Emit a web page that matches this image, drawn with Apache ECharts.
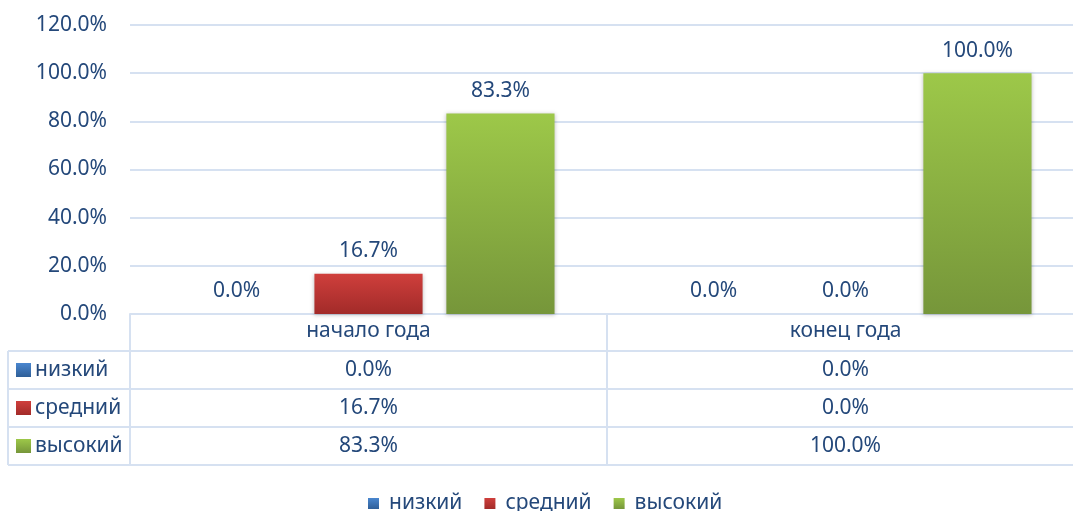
<!DOCTYPE html>
<html>
<head>
<meta charset="utf-8">
<script src="https://cdn.jsdelivr.net/npm/echarts@6/dist/echarts.min.js"></script>
<style>
  html, body { margin: 0; padding: 0; background: #fff; }
  #chart { width: 1073px; height: 511px; }
</style>
</head>
<body>
<div id="chart"></div>
<script>
  // данные
  const categories = ['начало года', 'конец года'];
  const seriesNames = ['низкий', 'средний', 'высокий'];
  const lowVals = [0.0, 0.0];
  const midVals = [16.7, 0.0];
  const highVals = [83.3, 100.0];
  const yMin = 0, yMax = 120, yStep = 20;

  const textColor = '#24487a';
  const lineColor = '#d6e1f1';
  const font = 'Noto Sans';
  const fs = 21;

  const grad = (top, bottom) => new echarts.graphic.LinearGradient(0, 0, 0, 1, [
    { offset: 0, color: top }, { offset: 1, color: bottom }
  ]);
  const colors = [grad('#4a86cf', '#2f5f98'), grad('#cf3f3c', '#a22b29'), grad('#9dc849', '#76963a')];

  const gridLeft = 130, gridTop = 25, gridWidth = 954, axisY = 314;
  const rowTop = 351, rowH = 38, tableLeft = 8;

  const fmt = v => v.toFixed(1) + '%';

  let chart = echarts.init(document.getElementById('chart'));

  const makeSeries = (name, data, idx) => ({
    name: name,
    type: 'bar',
    data: data,
    barGap: '22%',
    barCategoryGap: '22%',
    itemStyle: {
      color: colors[idx],
      shadowBlur: 4,
      shadowColor: 'rgba(0,0,0,0.25)',
      shadowOffsetY: 1
    },
    label: {
      show: true,
      position: 'top',
      distance: 12,
      formatter: p => fmt(p.value),
      color: textColor,
      fontFamily: font,
      fontSize: fs
    }
  });

  chart.setOption({
    animation: false,
    grid: { left: gridLeft, top: gridTop, width: gridWidth, height: axisY - gridTop, outerBoundsMode: 'none', containLabel: false },
    legend: {
      top: 488,
      left: 363,
      icon: 'rect',
      itemWidth: 11,
      itemHeight: 11,
      itemGap: 22,
      textStyle: { color: textColor, fontFamily: font, fontSize: fs, padding: [0, 0, 0, 5] },
      data: seriesNames
    },
    xAxis: {
      type: 'category',
      data: categories,
      axisLine: { lineStyle: { color: lineColor, width: 2 } },
      axisTick: { show: true, length: 151, lineStyle: { color: lineColor, width: 2 } },
      axisLabel: { margin: 7, color: textColor, fontFamily: font, fontSize: fs }
    },
    yAxis: {
      type: 'value',
      min: yMin, max: yMax, interval: yStep,
      axisLine: { show: false },
      axisTick: { show: false },
      splitLine: { lineStyle: { color: lineColor, width: 2 } },
      axisLabel: { margin: 23, color: textColor, fontFamily: font, fontSize: fs, formatter: v => fmt(v) }
    },
    series: [
      makeSeries(seriesNames[0], lowVals, 0),
      makeSeries(seriesNames[1], midVals, 1),
      makeSeries(seriesNames[2], highVals, 2)
    ]
  });

  // таблица данных под осью
  const rows = [lowVals, midVals, highVals];
  const graphics = [];
  const right = gridLeft + gridWidth;
  const tfont = fs + 'px "Noto Sans"';
  for (let r = 0; r <= rows.length; r++) {
    const y = rowTop + r * rowH;
    graphics.push({ type: 'line', shape: { x1: tableLeft, y1: y, x2: right, y2: y }, style: { stroke: lineColor, lineWidth: 2 } });
  }
  graphics.push({ type: 'line', shape: { x1: tableLeft, y1: rowTop, x2: tableLeft, y2: rowTop + rows.length * rowH }, style: { stroke: lineColor, lineWidth: 2 } });
  rows.forEach((vals, r) => {
    const cy = rowTop + r * rowH + rowH / 2;
    graphics.push({ type: 'rect', shape: { x: 16, y: cy - 7, width: 15, height: 14 }, style: { fill: colors[r] } });
    graphics.push({ type: 'text', x: 35, y: cy, style: { text: seriesNames[r], fill: textColor, font: tfont, verticalAlign: 'middle', align: 'left' } });
    vals.forEach((v, c) => {
      const cx = chart.convertToPixel({ xAxisIndex: 0 }, categories[c]);
      graphics.push({ type: 'text', x: cx, y: cy, style: { text: fmt(v), fill: textColor, font: tfont, verticalAlign: 'middle', align: 'center' } });
    });
  });
  chart.setOption({ graphic: graphics });
</script>
</body>
</html>
